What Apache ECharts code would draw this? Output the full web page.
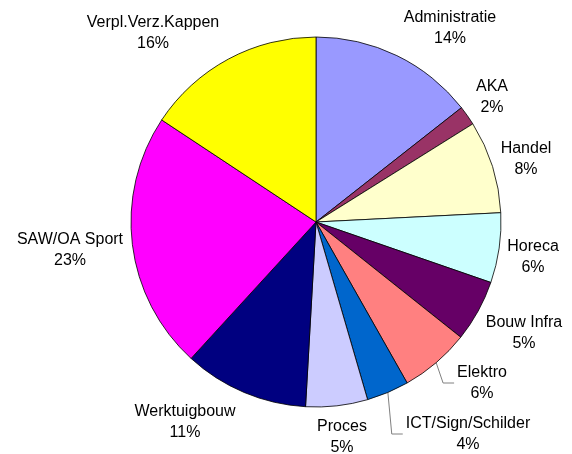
<!DOCTYPE html>
<html>
<head>
<meta charset="utf-8">
<script src="https://cdn.jsdelivr.net/npm/echarts@6/dist/echarts.min.js"></script>
<style>html,body{margin:0;padding:0;background:#fff}#c{width:572px;height:454px}</style>
</head>
<body>
<div id="c"></div>
<script>
// ---- data ----
const categories = ['Administratie','AKA','Handel','Horeca','Bouw Infra','Elektro','ICT/Sign/Schilder','Proces','Werktuigbouw','SAW/OA Sport','Verpl.Verz.Kappen'];
const values = [14.4, 1.7, 8.1, 6.1, 5.4, 6.1, 3.7, 5.4, 10.9, 22.5, 15.7];
const percentLabels = ['14%','2%','8%','6%','5%','6%','4%','5%','11%','23%','16%'];
const colors = ['#9999FF','#993366','#FFFFCC','#CCFFFF','#660066','#FF8080','#0066CC','#CCCCFF','#000080','#FF00FF','#FFFF00'];
const withLeader = [false,false,false,false,false,true,true,false,false,false,false];

// ---- layout (label centres relative to pie centre, px) ----
const CX = 316, CY = 222, R = 185;
const labelOffsets = [[134,-194],[176,-125],[210,-63],[217,35],[208,111],[166,161],[152,212],[26,215],[-131,200],[-246,28],[-163,-189]];

const chart = echarts.init(document.getElementById('c'), null, {renderer:'canvas'});
chart.setOption({
  backgroundColor:'#ffffff',
  animation:false,
  series:[{
    type:'pie',
    center:[CX, CY],
    radius:R,
    startAngle:90,
    clockwise:true,
    avoidLabelOverlap:false,
    itemStyle:{borderColor:'#000000', borderWidth:0.8},
    label:{
      show:true,
      position:'outside',
      formatter:(p)=> p.name + '\n' + percentLabels[p.dataIndex],
      fontFamily:'Liberation Sans, Arial, sans-serif',
      fontSize:16,
      lineHeight:21,
      color:'#000000',
      align:'center'
    },
    labelLine:{show:false, lineStyle:{color:'#808080', width:1}},
    labelLayout:function(params){
      const i = params.dataIndex;
      const x = CX + labelOffsets[i][0];
      const y = CY + labelOffsets[i][1];
      const out = {x:x, y:y, align:'center', verticalAlign:'middle', hideOverlap:false, moveOverlap:false};
      if (withLeader[i] && params.labelLinePoints) {
        const start = params.labelLinePoints[0];
        const endX = x - params.labelRect.width/2 - 3;
        out.labelLinePoints = [start, [endX - 11, y], [endX, y]];
      }
      return out;
    },
    data: categories.map((n,i)=>({
      name:n, value:values[i],
      itemStyle:{color:colors[i]},
      labelLine:{show:withLeader[i]}
    }))
  }]
});
</script>
</body>
</html>
